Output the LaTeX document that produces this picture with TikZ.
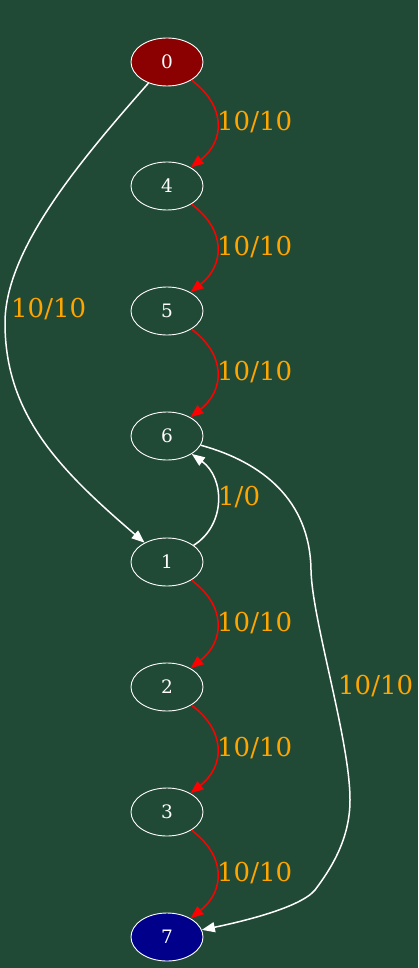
\documentclass[tikz,border=0pt]{standalone}
\usepackage{fontspec}
\setmainfont{DejaVu Serif}
\usetikzlibrary{shapes.geometric,arrows.meta}
\definecolor{bggreen}{RGB}{33,74,54}
\definecolor{lblorange}{RGB}{255,165,0}
\definecolor{nodered}{RGB}{139,0,0}
\definecolor{nodeblue}{RGB}{0,0,139}
\begin{document}
\begin{tikzpicture}[x=1pt,y=-1pt,
  gnode/.style={ellipse,draw=white,line width=0.9pt,minimum width=72pt,minimum height=48pt,inner sep=0pt,text=white,font=\fontsize{18.5}{20}\selectfont},
  flow/.style={line width=1.5pt,-{Triangle[length=13pt,width=10pt]}},
  redflow/.style={flow,draw=red},
  whiteflow/.style={flow,draw=white},
  elabel/.style={text=lblorange,inner sep=0pt,anchor=west,font=\fontsize{26}{28}\selectfont}
]
\fill[bggreen] (0,0) rectangle (418,968);
\useasboundingbox (0,0) rectangle (418,968);

\node[gnode,fill=nodered] (n0) at (167,62) {0};
\node[gnode] (n4) at (167,186) {4};
\node[gnode] (n5) at (167,311) {5};
\node[gnode] (n6) at (167,436) {6};
\node[gnode] (n1) at (167,562) {1};
\node[gnode] (n2) at (167,687) {2};
\node[gnode] (n3) at (167,812) {3};
\node[gnode,fill=nodeblue] (n7) at (167,937) {7};

% red chain edges
\draw[redflow] (n0) .. controls (225,105) and (226,140) .. (n4);
\node[elabel] (l04) at (217,122) {10/10};
\draw[redflow] (n4) .. controls (225,229) and (226,264) .. (n5);
\node[elabel] (l45) at (217,247) {10/10};
\draw[redflow] (n5) .. controls (225,354) and (226,389) .. (n6);
\node[elabel] (l56) at (217,372) {10/10};
\draw[redflow] (n1) .. controls (225,605) and (226,640) .. (n2);
\node[elabel] (l12) at (217,623) {10/10};
\draw[redflow] (n2) .. controls (225,730) and (226,765) .. (n3);
\node[elabel] (l23) at (217,748) {10/10};
\draw[redflow] (n3) .. controls (225,855) and (226,890) .. (n7);
\node[elabel] (l37) at (217,873) {10/10};

% white edges
\draw[whiteflow] (n1) .. controls (226,525) and (225,478) .. (n6);
\node[elabel] (l16) at (218,497) {1/0};

\coordinate (c01a) at (5,323);
\draw[whiteflow] (n0) .. controls (79,162) and (5,250) .. (c01a)
  .. controls (5,415) and (60,470) .. (n1);
\node[elabel] (l01) at (11,309) {10/10};

\coordinate (c67a) at (311,570);
\coordinate (c67b) at (350,800);
\coordinate (c67c) at (315,890);
\draw[whiteflow] (n6) .. controls (262,462) and (310,500) .. (c67a)
  .. controls (312,620) and (350,740) .. (c67b)
  .. controls (350,840) and (330,870) .. (c67c)
  .. controls (300,908) and (240,922) .. (n7);
\node[elabel] (l67) at (338,686) {10/10};
\end{tikzpicture}
\end{document}
